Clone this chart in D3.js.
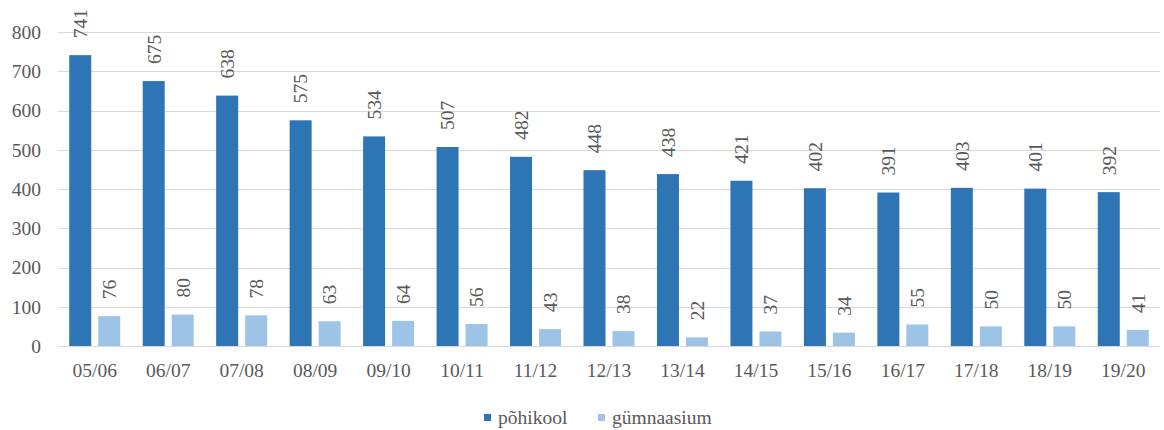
<!DOCTYPE html>
<html>
<head>
<meta charset="utf-8">
<script src="https://cdn.jsdelivr.net/npm/d3@7"></script>
<style>
  body { margin: 0; background: #fff; overflow: hidden; }
  svg { display: block; }
</style>
</head>
<body>
<svg id="chart"></svg>
<script>
const years = ["05/06", "06/07", "07/08", "08/09", "09/10", "10/11", "11/12", "12/13", "13/14", "14/15", "15/16", "16/17", "17/18", "18/19", "19/20"];
const pohikool = [741, 675, 638, 575, 534, 507, 482, 448, 438, 421, 402, 391, 403, 401, 392];
const gymnaasium = [76, 80, 78, 63, 64, 56, 43, 38, 22, 37, 34, 55, 50, 50, 41];
const seriesNames = ["põhikool", "gümnaasium"];
const colors = ["#2e75b6", "#9dc3e6"];
const yTicks = [0, 100, 200, 300, 400, 500, 600, 700, 800];

const width = 1164;
const height = 430;
const plotLeft = 58, plotRight = 1160, plotTop = 32, plotBottom = 346;
const fontFam = "'Liberation Serif', 'DejaVu Serif', serif";
const fontSize = "19.5px";
const textColor = "#595959";

let svg = d3.select("#chart")
    .attr("width", width)
    .attr("height", height)
    .style("font-family", fontFam)
    .style("font-size", fontSize);

let scX = d3.scaleBand().domain(years).range([plotLeft, plotRight]).paddingInner(0).paddingOuter(0);
let scY = d3.scaleLinear().domain([0, 800]).range([plotBottom, plotTop]);

const barW = 22, gap = 7;
const groupW = barW * 2 + gap;

// gridlines
svg.append("g")
    .selectAll("line")
    .data(yTicks)
    .enter()
    .append("line")
    .attr("x1", plotLeft)
    .attr("x2", plotRight)
    .attr("y1", d => Math.round(scY(d)) + 0.5)
    .attr("y2", d => Math.round(scY(d)) + 0.5)
    .attr("stroke", "#d9d9d9")
    .attr("stroke-width", 1.2);

// y tick labels
svg.append("g")
    .selectAll("text")
    .data(yTicks)
    .enter()
    .append("text")
    .attr("x", 41)
    .attr("y", d => scY(d))
    .attr("dy", "0.35em")
    .attr("text-anchor", "end")
    .attr("fill", textColor)
    .text(d => d);

// x labels
svg.append("g")
    .selectAll("text")
    .data(years)
    .enter()
    .append("text")
    .attr("x", d => scX(d) + scX.bandwidth() / 2)
    .attr("y", 377)
    .attr("text-anchor", "middle")
    .attr("fill", textColor)
    .text(d => d);

const series = [pohikool, gymnaasium];
series.forEach((vals, i) => {
    let rows = years.map((y, j) => ({ year: y, value: vals[j] }));
    let xOf = d => scX(d.year) + (scX.bandwidth() - groupW) / 2 + i * (barW + gap);

    svg.append("g")
        .selectAll("rect")
        .data(rows)
        .enter()
        .append("rect")
        .attr("x", xOf)
        .attr("y", d => scY(d.value))
        .attr("width", barW)
        .attr("height", d => scY(0) - scY(d.value))
        .attr("fill", colors[i]);

    svg.append("g")
        .selectAll("text")
        .data(rows)
        .enter()
        .append("text")
        .attr("transform", d => `translate(${xOf(d) + barW / 2}, ${scY(d.value) - 17}) rotate(-90)`)
        .attr("dy", "0.35em")
        .attr("text-anchor", "start")
        .attr("fill", textColor)
        .text(d => d.value);
});

// legend
let legend = svg.append("g");
const legendX = [484, 598];
seriesNames.forEach((name, i) => {
    legend.append("rect")
        .attr("x", legendX[i])
        .attr("y", 414)
        .attr("width", 7)
        .attr("height", 7)
        .attr("fill", colors[i]);
    legend.append("text")
        .attr("x", legendX[i] + 14)
        .attr("y", 424)
        .attr("fill", textColor)
        .text(name);
});
</script>
</body>
</html>
